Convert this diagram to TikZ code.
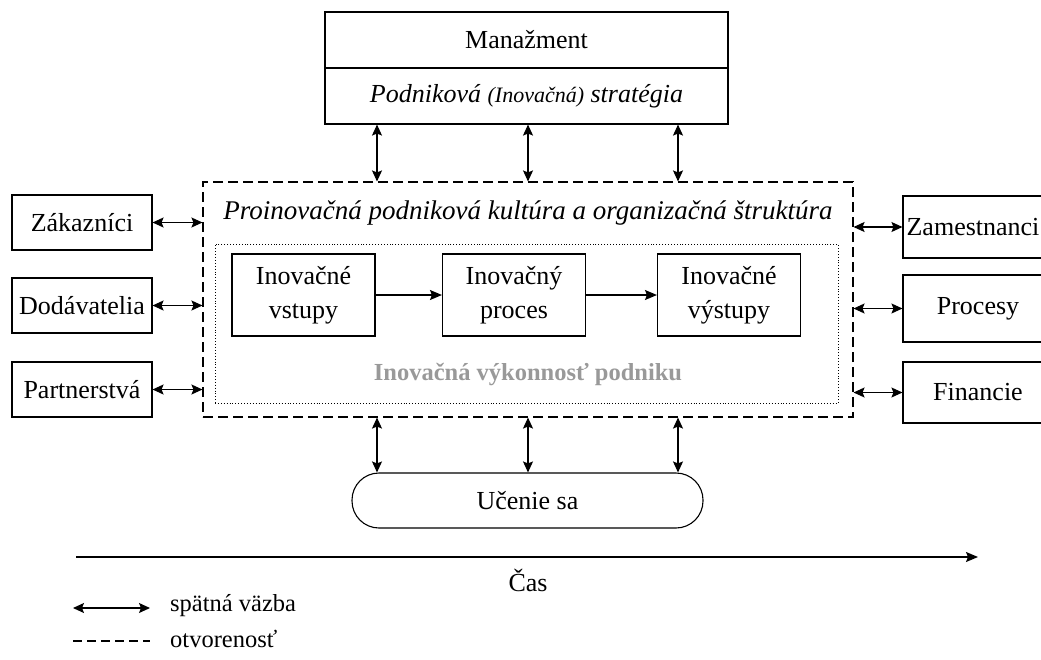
\documentclass[tikz,border=0pt]{standalone}
\usepackage{fontspec}
\setmainfont{Liberation Serif}
\usetikzlibrary{arrows.meta,positioning,calc}
\definecolor{perfgray}{HTML}{999999}

\tikzset{
  box/.style={draw,line width=1.1pt,inner sep=4pt,align=center,font=\fontsize{26}{34}\selectfont},
  fb/.style={{Stealth[length=11pt,width=10pt,inset=2pt]}-{Stealth[length=11pt,width=10pt,inset=2pt]},line width=1.2pt},
  flow/.style={-{Stealth[length=12pt,width=10pt,inset=2pt]},line width=1.2pt},
  lbl/.style={font=\fontsize{26}{30}\selectfont,inner sep=0pt}
}

\begin{document}
\begin{tikzpicture}[x=1pt,y=-1pt]
  \useasboundingbox (0,0) rectangle (1041,659);

  % management and strategy
  \node[box,minimum width=403pt,minimum height=56pt] (mgmt) at (526.5,40) {Manažment};
  \node[box,minimum width=403pt,minimum height=56pt] (strat) at (526.5,96)
    {\itshape Podniková {\fontsize{22}{25}\selectfont(Inovačná)} stratégia};

  % culture (open) and performance
  \node[draw,line width=1.1pt,dash pattern=on 10pt off 5pt,minimum width=650pt,minimum height=235pt] (culture) at (528,299.5) {};
  \node[lbl,font=\fontsize{27}{30}\selectfont\itshape] (ctitle) at (528,213) {Proinovačná podniková kultúra a organizačná štruktúra};
  \node[draw,line width=0.9pt,dotted,minimum width=623pt,minimum height=159pt] (perf) at (526.5,323.5) {};

  \node[box,minimum width=143pt,minimum height=82pt] (inp) at (303.5,295) {Inovačné\\vstupy};
  \node[box,minimum width=143pt,minimum height=82pt] (proc) at (514,295) {Inovačný\\proces};
  \node[box,minimum width=143pt,minimum height=82pt] (outp) at (729,295) {Inovačné\\výstupy};
  \draw[flow] (inp) -- (proc);
  \draw[flow] (proc) -- (outp);
  \node[lbl,font=\fontsize{24.5}{28}\selectfont\bfseries,text=perfgray] (perftxt) at (528,374) {Inovačná výkonnosť podniku};

  % outside partners
  \node[box,minimum width=140pt,minimum height=55pt] (zak) at (82,222.5) {Zákazníci};
  \node[box,minimum width=140pt,minimum height=55pt] (dod) at (82,305.5) {Dodávatelia};
  \node[box,minimum width=140pt,minimum height=55pt] (par) at (82,389.5) {Partnerstvá};
  \foreach \n in {zak,dod,par}
    \draw[fb] (\n.east) -- (\n.east -| culture.west);

  % inside resources
  \node[box,inner sep=1pt,minimum width=150pt,minimum height=62pt] (zam) at (978,227) {Zamestnanci\hspace*{10pt}};
  \node[box,minimum width=150pt,minimum height=67pt] (pro) at (978,308.5) {Procesy};
  \node[box,minimum width=150pt,minimum height=61pt] (fin) at (978,392.5) {Financie};
  \foreach \n in {zam,pro,fin}
    \draw[fb] (\n.west) -- (\n.west -| culture.east);

  % learning
  \node[box,rounded corners=27pt,minimum width=351pt,minimum height=55pt] (learn) at (527.5,500.5) {Učenie sa};

  \coordinate (c1) at (377,0);
  \coordinate (c2) at (528,0);
  \coordinate (c3) at (678,0);
  \foreach \c in {c1,c2,c3} {
    \draw[fb] (strat.south -| \c) -- (culture.north -| \c);
    \draw[fb] (culture.south -| \c) -- (learn.north -| \c);
  }

  % time
  \coordinate (t0) at (76,557);
  \coordinate (t1) at (978,557);
  \draw[flow,line width=1.3pt] (t0) -- (t1);
  \node[lbl] (cas) at (528,580) {Čas};

  % legend
  \coordinate (la) at (73,608);
  \coordinate (lb) at (150,608);
  \draw[fb] (la) -- (lb);
  \node[lbl,anchor=west,font=\fontsize{24.5}{28}\selectfont] (lfb) at (170,606) {spätná väzba};
  \coordinate (lc) at (73,641);
  \coordinate (ld) at (150,641);
  \draw[line width=1.1pt,dash pattern=on 9pt off 5pt] (lc) -- (ld);
  \node[lbl,anchor=west,font=\fontsize{24.5}{28}\selectfont] (lop) at (170,639) {otvorenosť};
\end{tikzpicture}
\end{document}
